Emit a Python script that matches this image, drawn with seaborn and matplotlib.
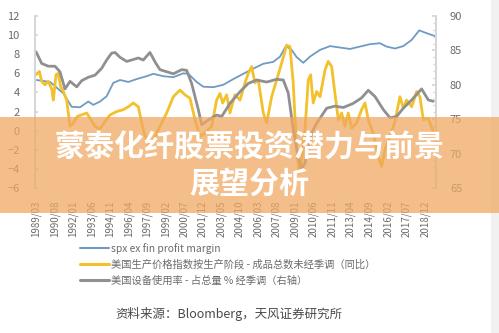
import matplotlib
matplotlib.use("Agg")
import matplotlib.pyplot as plt
from matplotlib.lines import Line2D
from matplotlib.patches import Rectangle
from matplotlib.ticker import MultipleLocator
import numpy as np
import pandas as pd
import seaborn as sns

# ---- series (decimal year, value) ----
margin_year = [1989.22, 1990.24, 1991.26, 1991.89, 1992.53, 1993.17, 1993.55, 1994.06,
               1994.57, 1995.08, 1995.59, 1996.23, 1996.86, 1997.63, 1998.14, 1998.90,
               1999.67, 2000.43, 2000.82, 2001.45, 2001.96, 2002.73, 2003.49, 2004.26,
               2005.02, 2005.79, 2006.55, 2007.32, 2007.83, 2008.28, 2008.72, 2009.10,
               2009.61, 2010.12, 2010.89, 2011.65, 2012.41, 2013.18, 2013.94, 2014.71,
               2015.47, 2015.98, 2016.62, 2017.26, 2017.90, 2018.48, 2019.04, 2019.68]
margin_val = [5.3, 5.1, 3.9, 2.5, 2.45, 3.05, 2.7, 3.05,
              3.6, 5.0, 5.3, 5.1, 5.4, 5.7, 5.95, 5.7,
              5.6, 6.0, 5.95, 5.1, 4.6, 4.55, 4.8, 5.4,
              5.95, 6.5, 7.0, 7.2, 7.75, 8.85, 8.45, 7.7,
              7.1, 7.75, 8.45, 8.85, 8.7, 8.55, 8.8, 9.05,
              9.15, 8.8, 8.6, 8.85, 9.5, 10.5, 10.2, 9.9]

ppi_year = [1989.17, 1989.43, 1989.60, 1989.86, 1990.11, 1990.37, 1990.49, 1990.70,
            1990.87, 1991.05, 1991.26, 1991.51, 1991.77, 1992.02, 1992.33, 1992.66,
            1993.04, 1993.30, 1993.68, 1994.06, 1994.44, 1994.83, 1995.34, 1995.85,
            1996.23, 1996.61, 1996.99, 1997.37, 1997.76, 1998.14, 1998.65, 1999.16,
            1999.67, 2000.18, 2000.56, 2000.94, 2001.33, 2001.71, 2002.09, 2002.60,
            2002.98, 2003.24, 2003.44, 2003.75, 2004.00, 2004.38, 2004.77, 2005.15,
            2005.40, 2005.66, 2005.91, 2006.17, 2006.55, 2006.81, 2007.19, 2007.57,
            2007.95, 2008.34, 2008.59, 2008.84, 2009.10, 2009.30, 2009.48, 2009.74,
            2009.99, 2010.17, 2010.37, 2010.63, 2010.89, 2011.27, 2011.52, 2011.78,
            2012.03, 2012.29, 2012.54, 2012.80, 2013.05, 2013.31, 2013.69, 2014.07,
            2014.33, 2014.58, 2014.96, 2015.35, 2015.60, 2015.86, 2016.24, 2016.62,
            2017.00, 2017.26, 2017.51, 2017.90, 2018.28, 2018.53, 2018.79, 2019.17,
            2019.55]
ppi_val = [5.85, 6.2, 5.15, 4.8, 5.15, 4.35, 3.2, 5.85,
           6.0, 4.6, 4.1, 3.2, 0.45, 0.8, 1.5, 1.65,
           1.85, 1.3, 0.45, 0.15, 0.95, 1.65, 2.0, 2.2,
           2.5, 2.9, 2.5, 0.1, -1.65, -0.95, 0.45, 1.85,
           3.55, 4.25, 3.75, 3.4, 1.15, -0.6, -0.25, 0.45,
           3.2, 3.9, 2.9, 3.75, 1.85, 3.75, 3.2, 5.0,
           6.0, 6.7, 5.0, 5.3, 1.85, 0.8, 3.55, 5.3,
           7.05, 8.95, 8.8, 5.0, -2.0, -4.45, -3.4, 0.1,
           5.3, 5.85, 2.9, 4.1, 3.55, 6.35, 7.25, 6.7,
           3.9, 1.15, 1.85, 0.45, 1.85, 0.25, 0.8, 2.2,
           2.9, 1.15, -0.25, -2.7, -3.75, -2.0, -0.6, 0.95,
           3.55, 2.35, 3.2, 2.5, 4.1, 3.55, 1.15, 1.3,
           -0.1]

util_year = [1989.17, 1989.60, 1990.11, 1990.62, 1991.00, 1991.38, 1991.77, 1992.28,
             1992.66, 1993.17, 1993.68, 1994.19, 1994.57, 1994.95, 1995.21, 1995.59,
             1996.10, 1996.48, 1996.99, 1997.37, 1997.88, 1998.34, 1998.65, 1999.16,
             1999.67, 2000.31, 2000.69, 2001.07, 2001.58, 2001.84, 2002.35, 2002.98,
             2003.37, 2004.00, 2004.77, 2005.40, 2006.04, 2006.81, 2007.57, 2008.08,
             2008.46, 2008.84, 2009.23, 2009.48, 2009.74, 2010.25, 2010.63, 2011.40,
             2012.03, 2012.67, 2013.43, 2014.07, 2014.58, 2015.09, 2015.73, 2016.24,
             2016.75, 2017.26, 2017.90, 2018.66, 2019.17, 2019.55]
util_val = [84.8, 83.1, 82.7, 82.7, 81.9, 79.4, 80.5, 79.7,
            80.6, 81.1, 81.4, 82.4, 83.6, 84.6, 84.7, 84.0,
            83.4, 83.6, 83.9, 83.6, 84.7, 83.1, 82.2, 81.9,
            81.6, 82.2, 82.1, 80.2, 76.4, 74.2, 74.9, 75.6,
            75.4, 77.3, 79.0, 80.2, 80.7, 80.4, 80.8, 80.7,
            78.8, 73.5, 69.6, 67.7, 68.6, 73.0, 74.4, 76.6,
            76.9, 76.7, 77.3, 78.1, 79.2, 78.3, 76.4, 75.2,
            75.4, 76.6, 77.8, 79.4, 77.8, 77.6]

# x-axis category labels, one every 17 months from 1989/03
tick_labels = ["1989/03", "1990/08", "1992/01", "1993/06", "1994/11", "1996/04",
               "1997/09", "1999/02", "2000/07", "2001/12", "2003/05", "2004/10",
               "2006/03", "2007/08", "2009/01", "2010/06", "2011/11", "2013/04",
               "2014/09", "2016/02", "2017/07", "2018/12"]

series_names = ["spx ex fin profit margin",
                "美国生产价格指数按生产阶段 - 成品总数未经季调（同比）",
                "美国设备使用率 - 占总量 % 经季调（右轴）"]

title_lines = ["蒙泰化纤股票投资潜力与前景", "展望分析"]
source_text = "资料来源：Bloomberg，天风证券研究所"

sns.set_theme(style="white")
plt.rcParams["font.family"] = ["Noto Sans CJK SC", "DejaVu Sans"]

BLUE = "#6f9bc2"
YELLOW = "#f3c12c"
GREY = "#909090"
TXT = "#6a6a6a"
AX = "#d6d6d6"

df_margin = pd.DataFrame({"year": margin_year, "value": margin_val})
df_ppi = pd.DataFrame({"year": ppi_year, "value": ppi_val})
df_util = pd.DataFrame({"year": util_year, "value": util_val})

fig = plt.figure(figsize=(4.99, 3.33), dpi=100)
ax = fig.add_axes([35 / 499, 1 - 188 / 333, (436 - 35) / 499, (188 - 16) / 333])
ax2 = ax.twinx()

sns.lineplot(data=df_margin, x="year", y="value", ax=ax, color=BLUE, linewidth=1.3)
sns.lineplot(data=df_ppi, x="year", y="value", ax=ax, color=YELLOW, linewidth=2.0)
sns.lineplot(data=df_util, x="year", y="value", ax=ax2, color=GREY, linewidth=2.0)

ax.set_xlim(1989.09, 2019.76)
ax.set_ylim(-6, 12)
ax2.set_ylim(65, 90)
ax.yaxis.set_major_locator(MultipleLocator(2))
ax2.yaxis.set_major_locator(MultipleLocator(5))
ax2.yaxis.set_minor_locator(MultipleLocator(1))

tick_pos = [1989 + 2 / 12 + 17 * k / 12 for k in range(len(tick_labels))]
ax.set_xticks(tick_pos)
ax.set_xticklabels(tick_labels, rotation=90, fontsize=7, color=TXT)
ax.tick_params(axis="x", length=0, pad=9)
ax.tick_params(axis="y", labelsize=8, colors=TXT, length=2, direction="in", pad=11, color=AX)
ax2.tick_params(axis="y", which="both", labelsize=8, colors=TXT, direction="in", pad=10, color=AX)
ax2.tick_params(axis="y", which="major", length=3)
ax2.tick_params(axis="y", which="minor", length=2)
for lab in ax.get_yticklabels() + ax2.get_yticklabels():
    lab.set_color(TXT)

for a in (ax, ax2):
    a.set_xlabel("")
    a.set_ylabel("")
    a.spines["top"].set_visible(False)
    a.spines["bottom"].set_visible(False)
    a.spines["left"].set_color(AX)
    a.spines["right"].set_color(AX)
    a.grid(False)
ax.patch.set_alpha(0)

# legend below the axes
handles = [Line2D([], [], color=BLUE, linewidth=1.5),
           Line2D([], [], color=YELLOW, linewidth=2.2),
           Line2D([], [], color=GREY, linewidth=2.2)]
fig.legend(handles, series_names, loc="upper left", bbox_to_anchor=(76 / 499, 1 - 239 / 333),
           frameon=False, fontsize=7.4, handlelength=2.8, handletextpad=0.25,
           labelspacing=0.55, labelcolor=TXT, borderaxespad=0)

fig.text(115 / 499, 1 - 314 / 333, source_text, fontsize=9, color="#4a4a4a",
         ha="left", va="center")

# faint strip at the right edge
fig.patches.append(Rectangle((491 / 499, 0), 8 / 499, 1, transform=fig.transFigure,
                             facecolor="#f1f1f1", edgecolor="none", zorder=-1))

# title banner
fig.patches.append(Rectangle((0, 1 - 213 / 333), 1, 96 / 333, transform=fig.transFigure,
                             facecolor="#efa862", edgecolor="none", alpha=0.74, zorder=5))
fig.text(0.5, 1 - 148 / 333, title_lines[0], fontsize=21.6, fontweight="bold", color="white",
         ha="center", va="center", zorder=6)
fig.text(0.5, 1 - 184 / 333, title_lines[1], fontsize=21.6, fontweight="bold", color="white",
         ha="center", va="center", zorder=6)

fig.savefig("out.png", dpi=100)
